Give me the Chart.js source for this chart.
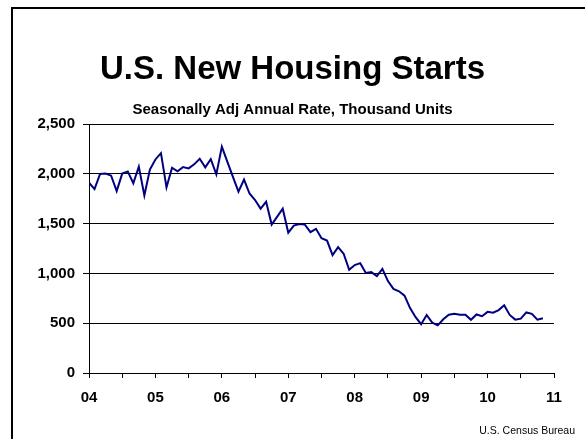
<!DOCTYPE html>
<html>
<head>
<meta charset="utf-8">
<script src="https://cdn.jsdelivr.net/npm/chart.js@4/dist/chart.umd.min.js"></script>
<style>
  html, body { margin: 0; padding: 0; background: #fff; overflow: hidden; }
  #wrap { position: relative; width: 585px; height: 439px; }
  #frame { position: absolute; left: 11px; top: 7px; right: -10px; bottom: -10px;
           border-top: 2px solid #000; border-left: 2px solid #000; pointer-events: none; }
  #source { position: absolute; right: 10px; top: 424px; font: 10.5px Arial, 'Liberation Sans', sans-serif; color: #000; }
</style>
</head>
<body>
<div id="wrap">
  <canvas id="chart" width="585" height="439"></canvas>
  <div id="frame"></div>
  <div id="source">U.S. Census Bureau</div>
</div>
<script>
// housing starts, thousand units (SAAR), Jan..Dec of each year
const years = [2004, 2005, 2006, 2007, 2008, 2009, 2010];
const starts2004 = [1911, 1846, 1998, 2003, 1981, 1827, 2002, 2024, 1905, 2072, 1782, 2042];
const starts2005 = [2144, 2207, 1864, 2061, 2025, 2068, 2054, 2095, 2151, 2065, 2147, 1994];
const starts2006 = [2273, 2119, 1969, 1821, 1942, 1802, 1737, 1650, 1720, 1491, 1570, 1649];
const starts2007 = [1409, 1480, 1495, 1490, 1415, 1448, 1354, 1330, 1183, 1264, 1197, 1037];
const starts2008 = [1084, 1103, 1005, 1013, 973, 1046, 923, 844, 820, 777, 652, 560];
const starts2009 = [490, 582, 505, 478, 540, 585, 594, 586, 585, 534, 588, 570];
const starts2010 = [614, 605, 632, 680, 583, 536, 546, 608, 594, 535, 550];
const yearLabels = ['04', '05', '06', '07', '08', '09', '10', '11'];
const yTicks = [0, 500, 1000, 1500, 2000, 2500];

const allYears = [starts2004, starts2005, starts2006, starts2007, starts2008, starts2009, starts2010];
const points = [];
allYears.forEach((vals, i) => {
    vals.forEach((v, m) => points.push({ x: years[i] + m / 12, y: v }));
});

const font = "Arial, 'Liberation Sans', sans-serif";

const ctx = document.getElementById('chart').getContext('2d');
const chart = new Chart(ctx, {
    type: 'line',
    data: {
        datasets: [{
            data: points,
            borderColor: '#000080',
            borderWidth: 2,
            pointRadius: 0,
            tension: 0,
            fill: false
        }]
    },
    options: {
        responsive: false,
        animation: false,
        // symmetric padding keeps the titles centred on the page
        layout: { padding: { left: 16, right: 16, top: 0, bottom: 21 } },
        plugins: {
            legend: { display: false },
            tooltip: { enabled: false },
            title: {
                display: true,
                text: 'U.S. New Housing Starts',
                color: '#000',
                font: { family: font, size: 33, weight: 'bold' },
                padding: { top: 50, bottom: 11.4 }
            },
            subtitle: {
                display: true,
                text: 'Seasonally Adj Annual Rate, Thousand Units',
                color: '#000',
                font: { family: font, size: 15, weight: 'bold' },
                padding: { top: 0, bottom: 5 }
            }
        },
        scales: {
            x: {
                type: 'linear',
                min: years[0],
                max: years[0] + yearLabels.length - 1,
                afterBuildTicks: (scale) => {
                    const t = [];
                    for (let i = 0; i < (yearLabels.length - 1) * 2 + 1; i++) {
                        t.push({ value: years[0] + i / 2 });
                    }
                    scale.ticks = t;
                },
                grid: { drawOnChartArea: false, drawTicks: true, tickLength: 5, color: '#000' },
                border: { color: '#000', width: 1 },
                ticks: {
                    autoSkip: false,
                    maxRotation: 0,
                    padding: 11,
                    color: '#000',
                    font: { family: font, size: 15, weight: 'bold' },
                    callback: (v) => {
                        const i = (v - years[0]) * 2;
                        return i % 2 === 0 ? yearLabels[i / 2] : '';
                    }
                }
            },
            y: {
                min: 0,
                max: 2500,
                afterBuildTicks: (scale) => { scale.ticks = yTicks.map(v => ({ value: v })); },
                afterFit: (scale) => { scale.width = 73; },
                grid: { color: '#000', lineWidth: 1, drawTicks: true, tickLength: 6 },
                border: { color: '#000', width: 1 },
                ticks: {
                    padding: 8,
                    color: '#000',
                    font: { family: font, size: 15, weight: 'bold' },
                    callback: (v) => v.toLocaleString('en-US')
                }
            },
            // empty right-hand spacer so the plot ends where the original does
            spacer: {
                position: 'right',
                min: 0,
                max: 2500,
                grid: { display: false },
                border: { display: false },
                ticks: { display: false },
                afterFit: (scale) => { scale.width = 15; }
            }
        }
    }
});
</script>
</body>
</html>
